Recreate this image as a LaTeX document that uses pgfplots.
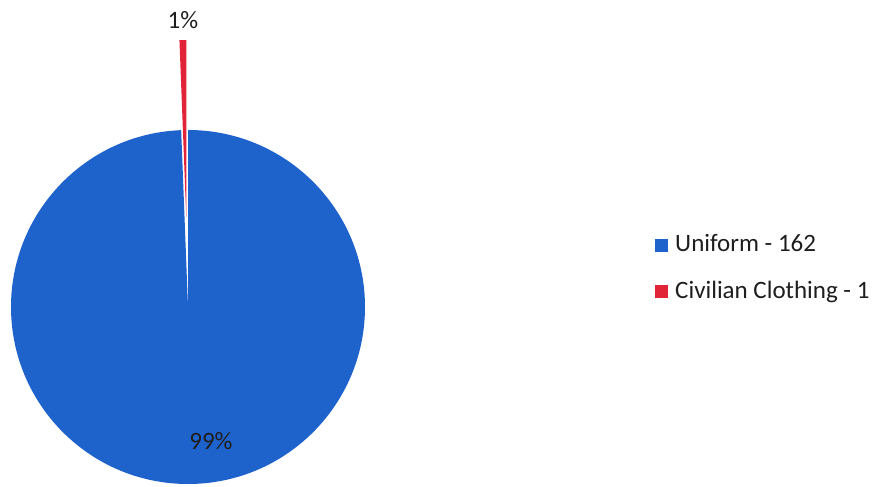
\documentclass[border=0pt]{standalone}
\usepackage{pgfplots}
\pgfplotsset{compat=1.18}
\usepackage{fontspec}
\setmainfont{Carlito}
\definecolor{ublue}{RGB}{30,99,204}
\definecolor{cred}{RGB}{226,36,56}
\definecolor{txt}{RGB}{30,30,30}
\begin{document}
\begin{tikzpicture}
\def\va{162}\def\vb{1}
\pgfmathsetmacro{\tot}{\va+\vb}
\pgfmathsetmacro{\aend}{90-\va/\tot*360}
\pgfmathsetmacro{\amid}{(\aend+(-270))/2}
\begin{axis}[width=881pt,height=487pt,scale only axis,
  xmin=0,xmax=881,ymin=0,ymax=487,hide axis,clip=false]
% Uniform slice (clockwise from 12 o'clock)
\fill[ublue] (axis cs:188,180) -- ++(90:177pt) arc[start angle=90,end angle=\aend,radius=177pt] -- cycle;
% Civilian slice, exploded
\fill[cred] (axis cs:188,180) ++(\amid:90pt) -- ++(\aend:177pt) arc[start angle=\aend,end angle=-270,radius=177pt] -- cycle;
\node[font=\fontsize{25}{28}\selectfont,text=txt] at (axis cs:183,467) {1\%};
\node[font=\fontsize{25}{28}\selectfont,text=txt] at (axis cs:211,46) {99\%};
% legend
\fill[ublue] (axis cs:655,235) rectangle (axis cs:668,248);
\fill[cred] (axis cs:655,189) rectangle (axis cs:668,202);
\node[anchor=base west,font=\fontsize{25}{28}\selectfont,text=txt,inner sep=0pt] at (axis cs:675,235) {Uniform - 162};
\node[anchor=base west,font=\fontsize{25}{28}\selectfont,text=txt,inner sep=0pt] at (axis cs:675,188) {Civilian Clothing - 1};
\end{axis}
\pgfresetboundingbox
\path (0,0) rectangle (881pt,487pt);
\end{tikzpicture}
\end{document}
